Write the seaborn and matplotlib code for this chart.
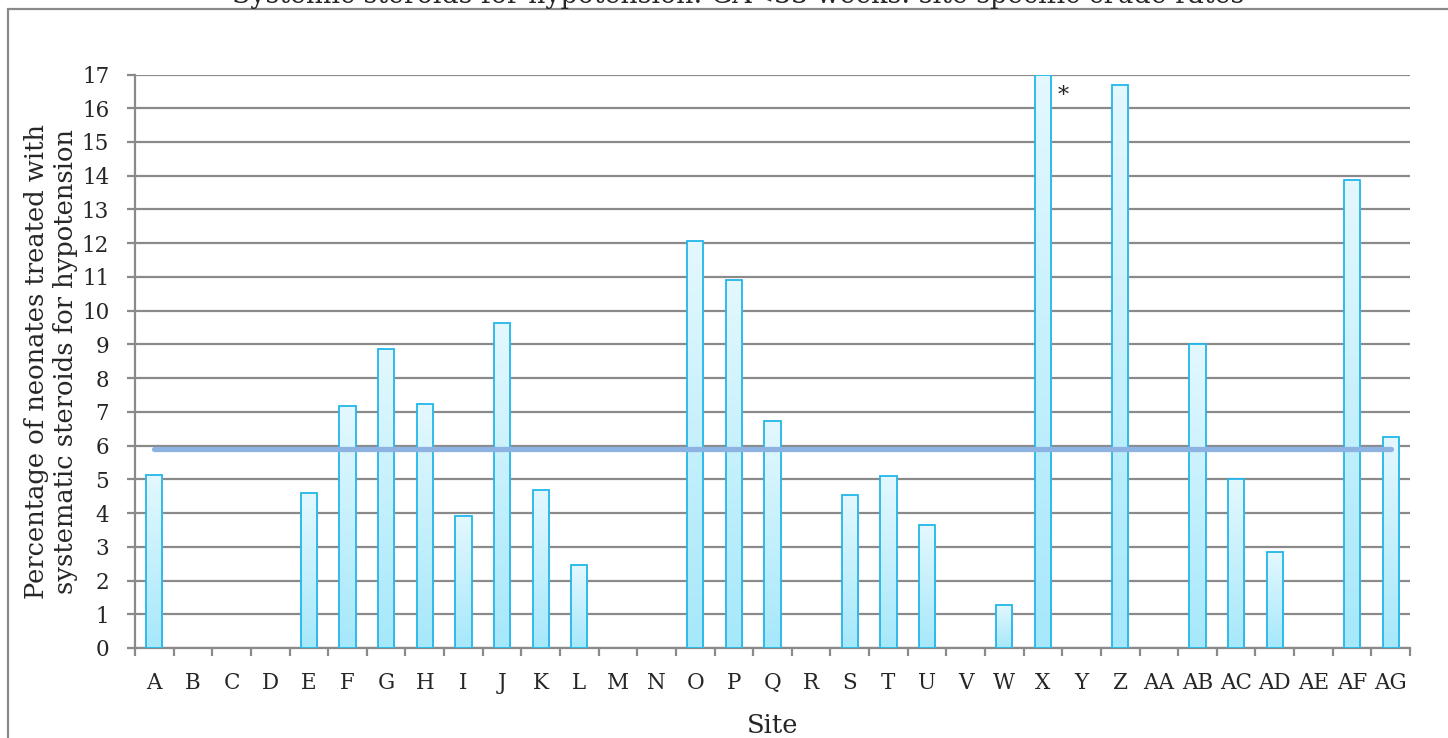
import numpy as np
import pandas as pd
import matplotlib
matplotlib.use("Agg")
import matplotlib.pyplot as plt
from matplotlib.patches import Rectangle
from matplotlib.colors import LinearSegmentedColormap
import seaborn as sns

# Site-specific crude rates (%), GA < 33 weeks
sites = ["A", "B", "C", "D", "E", "F", "G", "H", "I", "J", "K", "L", "M", "N",
         "O", "P", "Q", "R", "S", "T", "U", "V", "W", "X", "Y", "Z", "AA", "AB",
         "AC", "AD", "AE", "AF", "AG"]
rates = [5.14, 0, 0, 0, 4.58, 7.16, 8.87, 7.22, 3.92, 9.64, 4.69, 2.47, 0, 0,
         12.07, 10.92, 6.74, 0, 4.53, 5.11, 3.65, 0, 1.28, 17.0, 0, 16.68, 0, 9.02,
         5.0, 2.86, 0, 13.86, 6.26]
overall_rate = 5.9
y_ticks = list(range(0, 18))

title = "Systemic steroids for hypotension: GA<33 weeks: site specific crude rates"
y_label = "Percentage of neonates treated with\nsystematic steroids for hypotension"
x_label = "Site"

df = pd.DataFrame({"site": sites, "rate": rates})

sns.set_theme(style="white")
plt.rcParams["font.family"] = ["DejaVu Serif"]

W, H = 1448, 738
fig = plt.figure(figsize=(W / 100, H / 100), dpi=100)
ax = fig.add_axes([135 / W, 1 - 648 / H, (1410 - 135) / W, (648 - 74.5) / H])

grid_col = "#8a8a8a"
edge_col = "#22b6ea"

sns.barplot(data=df, x="site", y="rate", ax=ax, width=0.42, color="#bdeefc",
            edgecolor=edge_col, linewidth=1.3, saturation=1, zorder=3)

# vertical gradient fill inside each bar
grad = LinearSegmentedColormap.from_list("bargrad", ["#a6e8fb", "#e4f8fe"])
gimg = np.linspace(0, 1, 256).reshape(-1, 1)
for p in ax.patches:
    h = p.get_height()
    if h <= 0:
        p.set_visible(False)
        continue
    x0 = p.get_x()
    w = p.get_width()
    im = ax.imshow(gimg, cmap=grad, origin="lower", aspect="auto",
                   extent=[x0, x0 + w, 0, h], zorder=3.5, interpolation="bicubic")
    im.set_clip_path(p)
    p.set_facecolor("none")
    p.set_zorder(4)

# overall rate line
ax.plot([0, len(sites) - 1], [overall_rate, overall_rate], color="#8db3e2",
        linewidth=3.8, solid_capstyle="round", zorder=5)

# truncated bar marker
ax.text(23.53, 16.35, "*", fontsize=16, ha="center", va="center", zorder=6)

ax.set_xlim(-0.5, len(sites) - 0.5)
ax.set_ylim(0, 17)
ax.set_yticks(y_ticks)
ax.yaxis.grid(True, color=grid_col, linewidth=1.6, zorder=1)
ax.set_axisbelow(True)

for s in ["top", "right"]:
    ax.spines[s].set_visible(False)
for s in ["left", "bottom"]:
    ax.spines[s].set_color(grid_col)
    ax.spines[s].set_linewidth(1.6)

ax.tick_params(axis="y", which="major", direction="out", length=5.5, width=1.6,
               color=grid_col, pad=13, labelsize=15.5, left=True)
ax.set_xticks(np.arange(-0.5, len(sites)), minor=True)
ax.tick_params(axis="x", which="minor", direction="out", length=6, width=1.6,
               color=grid_col, bottom=True)
ax.tick_params(axis="x", which="major", length=0, pad=17, labelsize=15.5)

ax.set_xlabel(x_label, fontsize=18.5, labelpad=14)
ax.set_ylabel(y_label, fontsize=18.5, labelpad=3, linespacing=1.2)

# outer chart frame (left and top edges)
fig.patches.append(Rectangle((8 / W, -0.1), 1.2, 1 - 9 / H + 0.1,
                             transform=fig.transFigure, fill=False,
                             edgecolor=grid_col, linewidth=1.6))
fig.text(738 / W, 1 - 3 / H, title, ha="center", va="baseline", fontsize=19.3)

fig.savefig("out.png", dpi=100)
